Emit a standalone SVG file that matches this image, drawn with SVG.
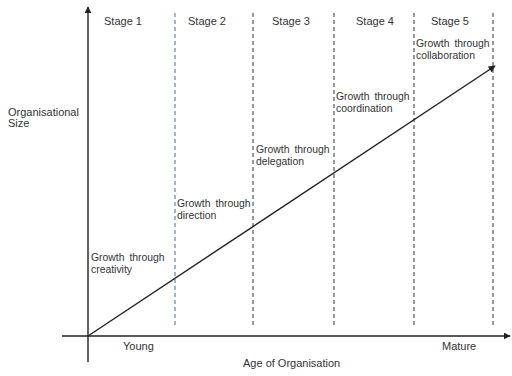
<svg xmlns="http://www.w3.org/2000/svg" width="512" height="376" viewBox="0 0 512 376">
<defs>
<style>
text{font-family:"Liberation Sans",Arial,sans-serif;font-size:11px;fill:#333}
.g{font-size:10.4px;word-spacing:2px}
.axis{stroke:#222;stroke-width:1.4;fill:none}
.div{stroke:#333;stroke-width:1;stroke-dasharray:4 3;fill:none}
.blue{stroke:#4a6d96}
</style>
<marker id="ah" viewBox="0 0 10 10" refX="9" refY="5" markerWidth="7" markerHeight="7" markerUnits="userSpaceOnUse" orient="auto">
<path d="M0,0 L10,5 L0,10 Z" fill="#222"/>
</marker>
</defs>
<rect width="512" height="376" fill="#fff"/>
<g id="connectors">
<line class="axis" x1="88" y1="362" x2="88" y2="7" marker-end="url(#ah)"/>
<line class="axis" x1="62" y1="336" x2="510" y2="336" marker-end="url(#ah)"/>
<line class="div blue" x1="175" y1="13" x2="175" y2="326"/>
<line class="div" x1="253" y1="13" x2="253" y2="326"/>
<line class="div" x1="334" y1="13" x2="334" y2="326"/>
<line class="div" x1="414" y1="13" x2="414" y2="326"/>
<line class="div" x1="493" y1="13" x2="493" y2="326"/>
<line class="axis" x1="88" y1="336" x2="495" y2="66" marker-end="url(#ah)"/>
</g>
<g id="stage1"><text x="104" y="25">Stage 1</text></g>
<g id="stage2"><text x="188" y="25">Stage 2</text></g>
<g id="stage3"><text x="272" y="25">Stage 3</text></g>
<g id="stage4"><text x="356" y="25">Stage 4</text></g>
<g id="stage5"><text x="431" y="25">Stage 5</text></g>
<g id="creativity"><text class="g" x="91" y="261">Growth through</text><text class="g" x="91" y="273">creativity</text></g>
<g id="direction"><text class="g" x="177" y="207">Growth through</text><text class="g" x="177" y="219">direction</text></g>
<g id="delegation"><text class="g" x="256" y="153">Growth through</text><text class="g" x="256" y="165">delegation</text></g>
<g id="coordination"><text class="g" x="336" y="100">Growth through</text><text class="g" x="336" y="112">coordination</text></g>
<g id="collaboration"><text class="g" x="416" y="47">Growth through</text><text class="g" x="416" y="59">collaboration</text></g>
<g id="ylabel"><text x="8" y="116">Organisational</text><text x="8" y="127">Size</text></g>
<g id="young"><text x="123" y="350">Young</text></g>
<g id="mature"><text x="442" y="350">Mature</text></g>
<g id="xlabel"><text x="243" y="367">Age of Organisation</text></g>
</svg>
